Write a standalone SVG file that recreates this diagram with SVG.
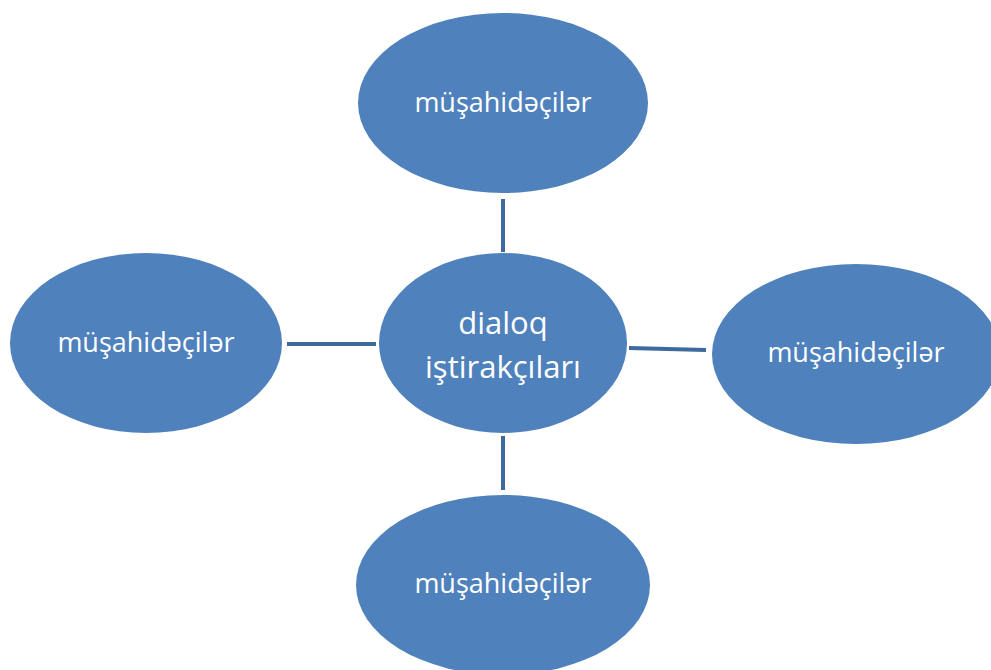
<svg xmlns="http://www.w3.org/2000/svg" width="991" height="670" viewBox="0 0 991 670">
<style>
.n{fill:#4F81BD;}
.t{fill:#FFFFFF;font-family:"Open Sans","Liberation Sans",sans-serif;text-anchor:middle;}
.s{font-size:27px;}
.b{font-size:31px;}
.c{stroke:#3E6A9E;stroke-width:4;fill:none;}
</style>
<rect width="991" height="670" fill="#FFFFFF"/>
<g id="connectors">
<line class="c" x1="503" y1="199" x2="503" y2="252"/>
<line class="c" x1="503" y1="436" x2="503" y2="490"/>
<line class="c" x1="287" y1="344" x2="376" y2="344"/>
<line class="c" x1="629" y1="348" x2="706" y2="350"/>
</g>
<g id="center">
<ellipse class="n" cx="503" cy="343" rx="124" ry="90"/>
<text class="t b" x="503" y="334">dialoq</text>
<text class="t b" x="503" y="378">iştirakçıları</text>
</g>
<g id="top">
<ellipse class="n" cx="503" cy="103" rx="145" ry="90"/>
<text class="t s" x="503" y="112">müşahidəçilər</text>
</g>
<g id="right">
<ellipse class="n" cx="856" cy="354" rx="144" ry="90"/>
<text class="t s" x="856" y="362">müşahidəçilər</text>
</g>
<g id="bottom">
<ellipse class="n" cx="503" cy="585" rx="147" ry="90"/>
<text class="t s" x="503" y="593">müşahidəçilər</text>
</g>
<g id="left">
<ellipse class="n" cx="146" cy="343" rx="136" ry="90"/>
<text class="t s" x="146" y="352">müşahidəçilər</text>
</g>
</svg>
